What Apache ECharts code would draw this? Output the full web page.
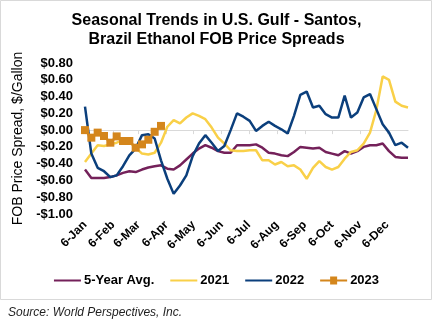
<!DOCTYPE html>
<html><head><meta charset="utf-8">
<script src="https://cdn.jsdelivr.net/npm/echarts@6/dist/echarts.min.js"></script>
<style>html,body{margin:0;padding:0;background:#fff}#c{width:433px;height:321px}</style>
</head><body><div id="c"></div>
<script>
// Week positions (day of year, weekly from 6-Jan)
var weekDays = [6,13,20,27,34,41,48,55,62,69,76,83,90,97,104,111,118,125,132,139,146,153,160,167,174,181,188,195,202,209,216,223,230,237,244,251,258,265,272,279,286,293,300,307,314,321,328,335,342,349,356,363];
// Month tick positions (day of year of the 6th) and labels
var monthDays = [6,37,65,96,126,157,187,218,249,279,310,340];
var monthLabels = ['6-Jan','6-Feb','6-Mar','6-Apr','6-May','6-Jun','6-Jul','6-Aug','6-Sep','6-Oct','6-Nov','6-Dec'];

var avg5 = [-0.47,-0.57,-0.57,-0.57,-0.56,-0.54,-0.51,-0.49,-0.50,-0.47,-0.445,-0.43,-0.42,-0.46,-0.47,-0.42,-0.35,-0.28,-0.22,-0.18,-0.21,-0.25,-0.27,-0.27,-0.18,-0.18,-0.18,-0.17,-0.21,-0.27,-0.28,-0.30,-0.31,-0.26,-0.20,-0.21,-0.22,-0.21,-0.26,-0.28,-0.30,-0.25,-0.28,-0.25,-0.20,-0.18,-0.18,-0.16,-0.25,-0.32,-0.33,-0.33];
var y2021 = [-0.38,-0.28,-0.18,-0.19,-0.17,-0.15,-0.12,-0.14,-0.21,-0.28,-0.29,-0.27,-0.15,0.04,0.12,0.08,0.15,0.20,0.17,0.13,0.03,-0.09,-0.16,-0.24,-0.25,-0.25,-0.24,-0.24,-0.36,-0.36,-0.41,-0.38,-0.43,-0.42,-0.47,-0.58,-0.45,-0.37,-0.44,-0.47,-0.44,-0.34,-0.26,-0.24,-0.16,-0.03,0.24,0.64,0.60,0.34,0.29,0.27];
var y2022 = [0.28,-0.28,-0.45,-0.49,-0.56,-0.54,-0.43,-0.30,-0.22,-0.06,-0.05,-0.10,-0.36,-0.58,-0.76,-0.66,-0.54,-0.31,-0.16,-0.06,-0.15,-0.25,-0.19,0.00,0.20,0.16,0.11,-0.01,0.05,0.10,0.05,0.01,-0.04,0.17,0.42,0.46,0.27,0.29,0.19,0.15,0.15,0.41,0.15,0.21,0.39,0.43,0.25,0.07,-0.03,-0.18,-0.15,-0.21];
var y2023 = [0.00,-0.09,-0.03,-0.07,-0.15,-0.075,-0.13,-0.13,-0.21,-0.17,-0.115,-0.02,0.05];

function pairs(vals){ return vals.map(function(v,i){ return [weekDays[i], v]; }); }

var chart = echarts.init(document.getElementById('c'), null, {renderer:'canvas'});
var FONT = 'Liberation Sans, Arial, sans-serif';
var labelMap = {};
monthDays.forEach(function(d,i){ labelMap[d] = monthLabels[i]; });

var lineIcon = 'path://M0,3.4 H27 V5.6 H0 Z M0,0 H0.01 V0.01 H0 Z M0,8.99 H0.01 V9 H0 Z';
var lineSquareIcon = 'path://M0,3.4 H10 V0.5 H17 V3.4 H27 V5.6 H17 V8.5 H10 V5.6 H0 Z M0,0 H0.01 V0.01 H0 Z M0,8.99 H0.01 V9 H0 Z';

chart.setOption({
  animation: false,
  backgroundColor: '#fff',
  textStyle: {fontFamily: FONT},
  title: [{
    text: 'Seasonal Trends in U.S. Gulf - Santos,\nBrazil Ethanol FOB Price Spreads',
    left: 'center', top: 6,
    textStyle: {fontFamily: FONT, fontSize: 16, fontWeight: 'bold', color: '#000', lineHeight: 19}
  },{
    text: 'Source: World Perspectives, Inc.',
    left: 3, top: 302,
    textStyle: {fontFamily: FONT, fontSize: 12, fontStyle: 'italic', fontWeight: 'normal', color: '#1f1f1f'}
  }],
  graphic: [{
    type: 'rect', shape: {x: 0.5, y: 0.5, width: 431, height: 299},
    style: {fill: 'none', stroke: '#d9d9d9', lineWidth: 1}, silent: true, z: -1
  }],
  legend: {
    bottom: 29, left: 'center',
    itemWidth: 27, itemHeight: 9, itemGap: 16,
    textStyle: {fontFamily: FONT, fontSize: 13, fontWeight: 'bold', color: '#000', padding: [0,0,0,-2]},
    data: [
      {name: '5-Year Avg.', icon: lineIcon},
      {name: '2021', icon: lineIcon},
      {name: '2022', icon: lineIcon},
      {name: '2023', icon: lineSquareIcon}
    ]
  },
  grid: {left: 85, right: 25, top: 63, bottom: 107, containLabel: false, outerBoundsMode: 'none'},
  xAxis: [{
    type: 'value', min: 6, max: 363, position: 'bottom',
    axisLine: {show: true, onZero: true, lineStyle: {color: '#d9d9d9', width: 1}},
    axisTick: {show: true, length: 4, customValues: monthDays, lineStyle: {color: '#d9d9d9'}},
    axisLabel: {show: false},
    splitLine: {show: false}
  },{
    type: 'value', min: 6, max: 363, position: 'bottom',
    axisLine: {show: false, onZero: false},
    axisTick: {show: false},
    axisLabel: {show: true, customValues: monthDays, rotate: 45, margin: 9,
      fontFamily: FONT, fontSize: 12, fontWeight: 'bold', color: '#000',
      formatter: function(v){ return labelMap[v] || ''; }},
    splitLine: {show: false}
  }],
  yAxis: {
    type: 'value', min: -1, max: 0.8, interval: 0.2,
    name: 'FOB Price Spread, $/Gallon', nameLocation: 'middle', nameGap: 60, nameRotate: 90,
    nameTextStyle: {fontFamily: FONT, fontSize: 14, color: '#000'},
    axisLine: {show: false}, axisTick: {show: false}, splitLine: {show: false},
    axisLabel: {margin: 12, fontFamily: FONT, fontSize: 13, fontWeight: 'bold', color: '#000',
      formatter: function(v){ var r = Math.round(v*100)/100; return (r < 0 ? '-' : '') + '$' + Math.abs(r).toFixed(2); }}
  },
  series: [{
    name: '5-Year Avg.', type: 'line', data: pairs(avg5), showSymbol: false, symbol: 'none',
    lineStyle: {color: '#74215A', width: 2.5}, itemStyle: {color: '#74215A'}, z: 2
  },{
    name: '2021', type: 'line', data: pairs(y2021), showSymbol: false, symbol: 'none',
    lineStyle: {color: '#F9D048', width: 2.5}, itemStyle: {color: '#F9D048'}, z: 3
  },{
    name: '2022', type: 'line', data: pairs(y2022), showSymbol: false, symbol: 'none',
    lineStyle: {color: '#0B3F7C', width: 2.5}, itemStyle: {color: '#0B3F7C'}, z: 4
  },{
    name: '2023', type: 'line', data: pairs(y2023), symbol: 'rect', symbolSize: 8,
    lineStyle: {color: '#D4861C', width: 2.5}, itemStyle: {color: '#D4861C'}, z: 5
  }]
});
</script></body></html>
